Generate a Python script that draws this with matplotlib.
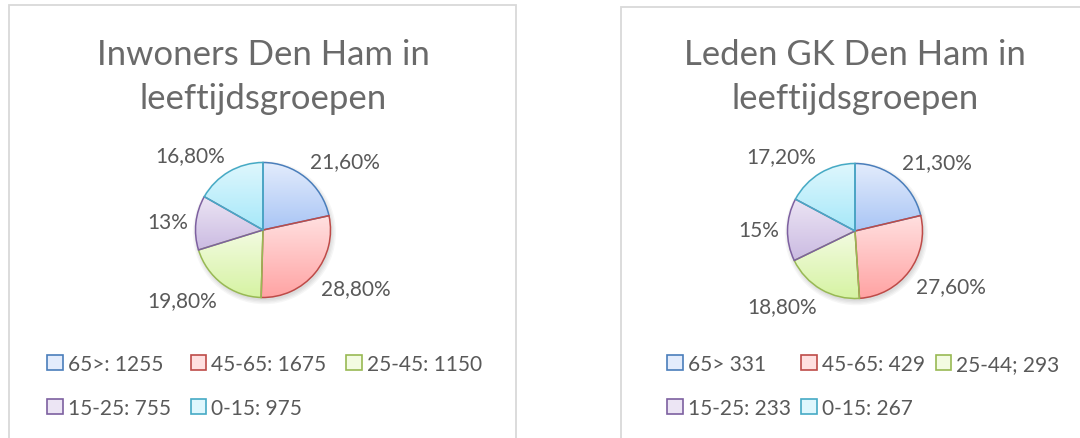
import matplotlib
matplotlib.use('Agg')
import matplotlib.pyplot as plt
import numpy as np
from matplotlib.patches import Patch, Rectangle, Circle
from matplotlib.colors import LinearSegmentedColormap

plt.rcParams['font.family'] = ['Lato', 'DejaVu Sans']

# Data
titles = ["Inwoners Den Ham in\nleeftijdsgroepen", "Leden GK Den Ham in\nleeftijdsgroepen"]
inwoners = [1255, 1675, 1150, 755, 975]
inwoners_pct = ["21,60%", "28,80%", "19,80%", "13%", "16,80%"]
inwoners_legend = ["65>: 1255", "45-65: 1675", "25-45: 1150", "15-25: 755", "0-15: 975"]
leden = [331, 429, 293, 233, 267]
leden_pct = ["21,30%", "27,60%", "18,80%", "15%", "17,20%"]
leden_legend = ["65> 331", "45-65: 429", "25-44; 293", "15-25: 233", "0-15: 267"]

edge_colors = ['#4a7ebb', '#be4b48', '#98b954', '#7d60a0', '#46aac5']
top_colors = ['#e3ecfc', '#ffe0e0', '#f3fbe2', '#ece5f4', '#dff7fd']
bottom_colors = ['#a9c5f5', '#ffa3a3', '#d6f3a3', '#cbbbe2', '#a6e8f9']
text_color = '#595959'

W, H = 1080, 439
R = 67.5   # pie radius in px
K = 2.0    # axes half-size in pie radii

fig = plt.figure(figsize=(W / 100, H / 100), dpi=100)


def box(x0, y0, x1):
    # chart frame, bottom runs off the picture
    fig.patches.append(Rectangle((x0 / W, -0.1), (x1 - x0) / W, 1 - y0 / H + 0.1,
                                 transform=fig.transFigure, fill=False,
                                 edgecolor='#d9d9d9', lw=1.3))


def panel(cx, cy, title, values, pct, labels, leg_x, leg_y, colsp):
    side = 2 * K * R
    ax = fig.add_axes([(cx - side / 2) / W, (H - cy - side / 2) / H, side / W, side / H])
    ax.axis('off')

    # soft shadow
    for i in range(4):
        ax.add_patch(Circle((0.02, -0.04), 1.0 + 0.02 * i, color='k', alpha=0.035, lw=0, zorder=0))

    wedges, _ = ax.pie(values, startangle=90, counterclock=False, radius=1,
                       wedgeprops=dict(linewidth=1.1))
    grad = np.linspace(0, 1, 256).reshape(-1, 1)
    for i, w in enumerate(wedges):
        w.set_edgecolor(edge_colors[i])
        w.set_facecolor('none')
        w.set_zorder(3)
        ext = w.get_path().get_extents()
        cmap = LinearSegmentedColormap.from_list('g%d' % i, [bottom_colors[i], top_colors[i]])
        im = ax.imshow(grad, extent=[ext.x0, ext.x1, ext.y0, ext.y1], origin='lower',
                       cmap=cmap, aspect='auto', zorder=2)
        im.set_clip_path(w)

        ang = np.deg2rad((w.theta1 + w.theta2) / 2)
        c, s = np.cos(ang), np.sin(ang)
        ha = 'left' if c > 0.05 else ('right' if c < -0.05 else 'center')
        va = 'bottom' if s > 0.4 else ('top' if s < -0.4 else 'center')
        ax.text(1.12 * c, 1.12 * s, pct[i], ha=ha, va=va, fontsize=15, color=text_color)

    ax.set_xlim(-K, K)
    ax.set_ylim(-K, K)
    ax.set_aspect('equal')

    fig.text(cx / W, 1 - 77 / H, title, ha='center', va='center', fontsize=25,
             color='#6a6a6a', linespacing=1.45)

    handles = [Patch(facecolor=top_colors[i], edgecolor=edge_colors[i], lw=1.2) for i in range(5)]
    # legend fills column by column, so reorder to read row by row
    order = [0, 3, 1, 4, 2]
    fig.legend([handles[i] for i in order], [labels[i] for i in order], ncol=3,
               loc='upper left', bbox_to_anchor=(leg_x / W, 1 - leg_y / H),
               frameon=False, fontsize=15, labelcolor=text_color, borderpad=0,
               borderaxespad=0, handlelength=0.75, handleheight=0.75, handletextpad=0.25,
               columnspacing=colsp, labelspacing=1.15)


box(9, 6, 516)
box(621, 8, 1200)
panel(263, 231, titles[0], inwoners, inwoners_pct, inwoners_legend, 47, 355, 0.95)
panel(855, 232, titles[1], leden, leden_pct, leden_legend, 667, 355, 0.5)

fig.savefig('out.png', dpi=100)
